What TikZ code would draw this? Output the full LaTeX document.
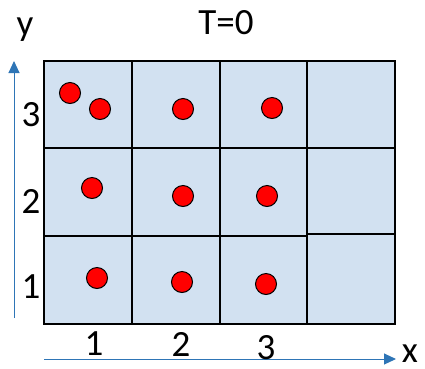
\documentclass[tikz,border=0pt]{standalone}
\usepackage{fontspec}
\setmainfont{Carlito}
\usetikzlibrary{arrows.meta}
\definecolor{cellblue}{RGB}{210,225,241}
\definecolor{axisblue}{RGB}{46,117,182}
\tikzset{
  dot/.style={circle,draw=black,fill=red,line width=1pt,minimum size=21pt,inner sep=0pt},
  lbl/.style={inner sep=0pt,font=\fontsize{37}{40}\selectfont},
  gridline/.style={draw=black,line width=1.4pt},
  axis/.style={draw=axisblue,line width=1pt,-{Triangle[length=12pt,width=11pt]}}
}
\begin{document}
\begin{tikzpicture}[x=1pt,y=-1pt]
\useasboundingbox (0,0) rectangle (425,368);
% cells
\fill[cellblue] (44,61) rectangle (395,324);
\draw[gridline] (44,61) rectangle (395,324);
\draw[gridline] (132,61) -- (132,324);
\draw[gridline] (220,61) -- (220,324);
\draw[gridline] (307,61) -- (307,324);
\draw[gridline] (44,148) -- (395,148);
\draw[gridline] (44,236) -- (307,236);
\draw[gridline] (307,234) -- (395,234);
% dots
\node[dot] (d31a) at (70,93) {};
\node[dot] (d31b) at (100,109) {};
\node[dot] (d32) at (183,109) {};
\node[dot] (d33) at (272,108) {};
\node[dot] (d21) at (92,188) {};
\node[dot] (d22) at (183,196) {};
\node[dot] (d23) at (267,196) {};
\node[dot] (d11) at (97,278) {};
\node[dot] (d12) at (182,282) {};
\node[dot] (d13) at (266,284) {};
% axes
\coordinate (yb) at (14,318);
\coordinate (yt) at (14,61);
\coordinate (xl) at (44,359);
\coordinate (xr) at (396,359);
\draw[axis] (yb) -- (yt);
\draw[axis] (xl) -- (xr);
% labels
\node[lbl,anchor=base] (ylab) at (25,35) {y};
\node[lbl] (title) at (226,22.5) {T=0};
\node[lbl] (r3) at (31,115) {3};
\node[lbl] (r2) at (31,201) {2};
\node[lbl] (r1) at (31,287) {1};
\node[lbl] (c1) at (94,344) {1};
\node[lbl] (c2) at (181,344) {2};
\node[lbl] (c3) at (266,348) {3};
\node[lbl,anchor=base] (xlab) at (410,362) {x};
\end{tikzpicture}
\end{document}
